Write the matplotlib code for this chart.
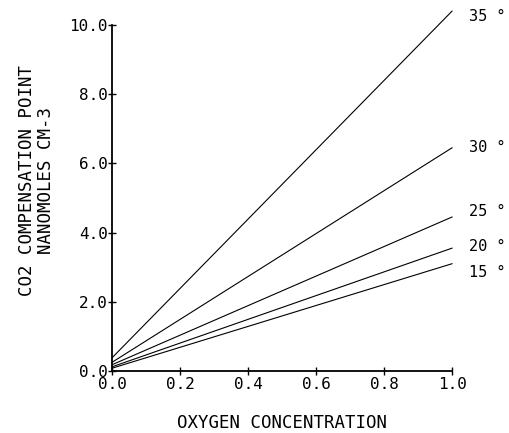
import matplotlib
matplotlib.use("Agg")
import matplotlib.pyplot as plt

# oxygen concentration end points and CO2 compensation point per temperature
oxygen = [0.0, 1.0]
temps = ["15", "20", "25", "30", "35"]
co2_start = [0.08, 0.12, 0.18, 0.25, 0.38]
co2_end = [3.1, 3.55, 4.45, 6.45, 10.4]
label_y = [2.85, 3.6, 4.6, 6.45, 10.25]

plt.rcParams['font.family'] = ['DejaVu Sans Mono']

fig = plt.figure(figsize=(5.1, 4.33), dpi=100)
ax = fig.add_axes([0.2196, 0.1432, 0.6667, 0.7991])

for t, a, b, ly in zip(temps, co2_start, co2_end, label_y):
    ax.plot(oxygen, [a, b], color="black", lw=0.8, clip_on=False)
    ax.text(1.05, ly, t + " \u00b0", fontsize=11, va="center", ha="left",
            clip_on=False)

ax.set_xlim(0, 1.0)
ax.set_ylim(0, 10.0)
ax.set_xticks([0.0, 0.2, 0.4, 0.6, 0.8, 1.0])
ax.set_yticks([0.0, 2.0, 4.0, 6.0, 8.0, 10.0])
ax.set_xticklabels(["0.0", "0.2", "0.4", "0.6", "0.8", "1.0"])
ax.set_yticklabels(["0.0", "2.0", "4.0", "6.0", "8.0", "10.0"])
ax.tick_params(direction="inout", length=6, width=1, labelsize=11.5)
ax.tick_params(axis="x", pad=1)
ax.tick_params(axis="y", pad=0)
ax.spines["top"].set_visible(False)
ax.spines["right"].set_visible(False)
ax.spines["left"].set_linewidth(1.3)
ax.spines["bottom"].set_linewidth(1.3)

fig.text(0.552, 1 - 423 / 433, "OXYGEN CONCENTRATION", fontsize=12.5,
         ha="center", va="center")
fig.text(36.5 / 510, 1 - 181 / 433, "CO2 COMPENSATION POINT\nNANOMOLES CM-3",
         fontsize=12.5, ha="center", va="center", rotation=90,
         linespacing=1.1, multialignment="center")

fig.savefig("out.png", dpi=100)
